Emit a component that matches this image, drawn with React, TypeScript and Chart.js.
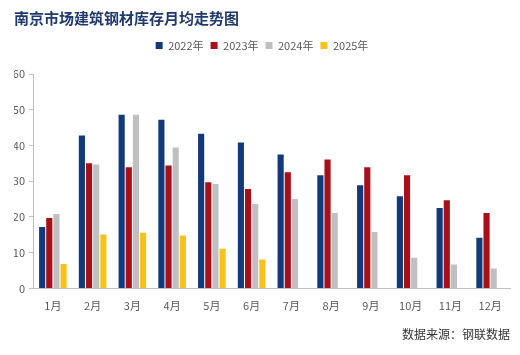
import React, { useEffect, useRef } from "react";
import { Chart, registerables } from "chart.js";

Chart.register(...registerables);

const categories = ["1月", "2月", "3月", "4月", "5月", "6月", "7月", "8月", "9月", "10月", "11月", "12月"];
const series2022 = [17.2, 42.8, 48.6, 47.2, 43.3, 40.8, 37.5, 31.7, 28.9, 25.8, 22.5, 14.2];
const series2023 = [19.7, 35.0, 33.9, 34.4, 29.7, 27.8, 32.5, 36.1, 33.9, 31.7, 24.7, 21.1];
const series2024 = [20.8, 34.7, 48.6, 39.4, 29.2, 23.6, 25.0, 21.1, 15.8, 8.6, 6.7, 5.6];
const series2025 = [6.8, 15.1, 15.6, 14.8, 11.1, 8.1, null, null, null, null, null, null];
const yTicks = [0, 10, 20, 30, 40, 50, 60];

const titleText = "南京市场建筑钢材库存月均走势图";
const sourceText = "数据来源：钢联数据";

const legendGap = {
  id: "legendGap",
  beforeLayout(chart: any) {
    const lg = chart.legend;
    if (lg && !lg.__patched) {
      const orig = lg.fit;
      lg.fit = function () {
        orig.call(this);
        this.height += 13;
      };
      lg.__patched = true;
    }
  },
};

export default function App() {
  const ref = useRef<HTMLCanvasElement | null>(null);
  useEffect(() => {
    document.body.style.margin = "0";
    const font = "'Noto Sans CJK SC', 'Noto Sans', sans-serif";
    const chart = new Chart(ref.current!, {
      type: "bar",
      data: {
        labels: categories,
        datasets: [
          { label: "2022年", data: series2022, backgroundColor: "#123A7A" },
          { label: "2023年", data: series2023, backgroundColor: "#A80F18" },
          { label: "2024年", data: series2024, backgroundColor: "#C0C0C0" },
          { label: "2025年", data: series2025 as any, backgroundColor: "#F7C21B" },
        ],
      },
      plugins: [legendGap],
      options: {
        animation: false,
        responsive: false,
        maintainAspectRatio: false,
        layout: { padding: { left: 14, right: 10, top: 0, bottom: 13 } },
        datasets: { bar: { categoryPercentage: 0.72, barPercentage: 0.86 } },
        plugins: {
          title: {
            display: true,
            text: titleText,
            align: "start",
            color: "#1F3A6E",
            font: { family: font, size: 15, weight: "bold" },
            padding: { top: 9, bottom: 6 },
          },
          subtitle: {
            display: true,
            text: sourceText,
            position: "bottom",
            align: "end",
            color: "#333333",
            font: { family: font, size: 12 },
            padding: { top: 4, bottom: 0 },
          },
          legend: {
            display: true,
            position: "top",
            align: "center",
            labels: {
              boxWidth: 7,
              boxHeight: 7,
              color: "#595959",
              font: { family: font, size: 11 },
              padding: 7,
            },
          },
          tooltip: { enabled: false },
        },
        scales: {
          x: {
            grid: { display: false, drawTicks: false },
            border: { display: true, color: "#BFBFBF" },
            ticks: { color: "#595959", font: { family: font, size: 11 }, padding: 11 },
          },
          y: {
            min: 0,
            max: 60,
            afterBuildTicks: (axis: any) => {
              axis.ticks = yTicks.map((v) => ({ value: v }));
            },
            afterFit: (axis: any) => {
              axis.width = 19;
            },
            grid: { display: true, drawOnChartArea: false, drawTicks: true, tickLength: 4, color: "#BFBFBF" },
            border: { display: true, color: "#BFBFBF" },
            ticks: { color: "#595959", font: { family: font, size: 11 }, padding: 4 },
          },
        },
      },
    });
    return () => chart.destroy();
  }, []);
  return (
    <div style={{ position: "absolute", left: 0, top: 0, width: 520, height: 355, background: "#fff" }}>
      <canvas ref={ref} width={520} height={355} style={{ width: 520, height: 355 }} />
    </div>
  );
}
